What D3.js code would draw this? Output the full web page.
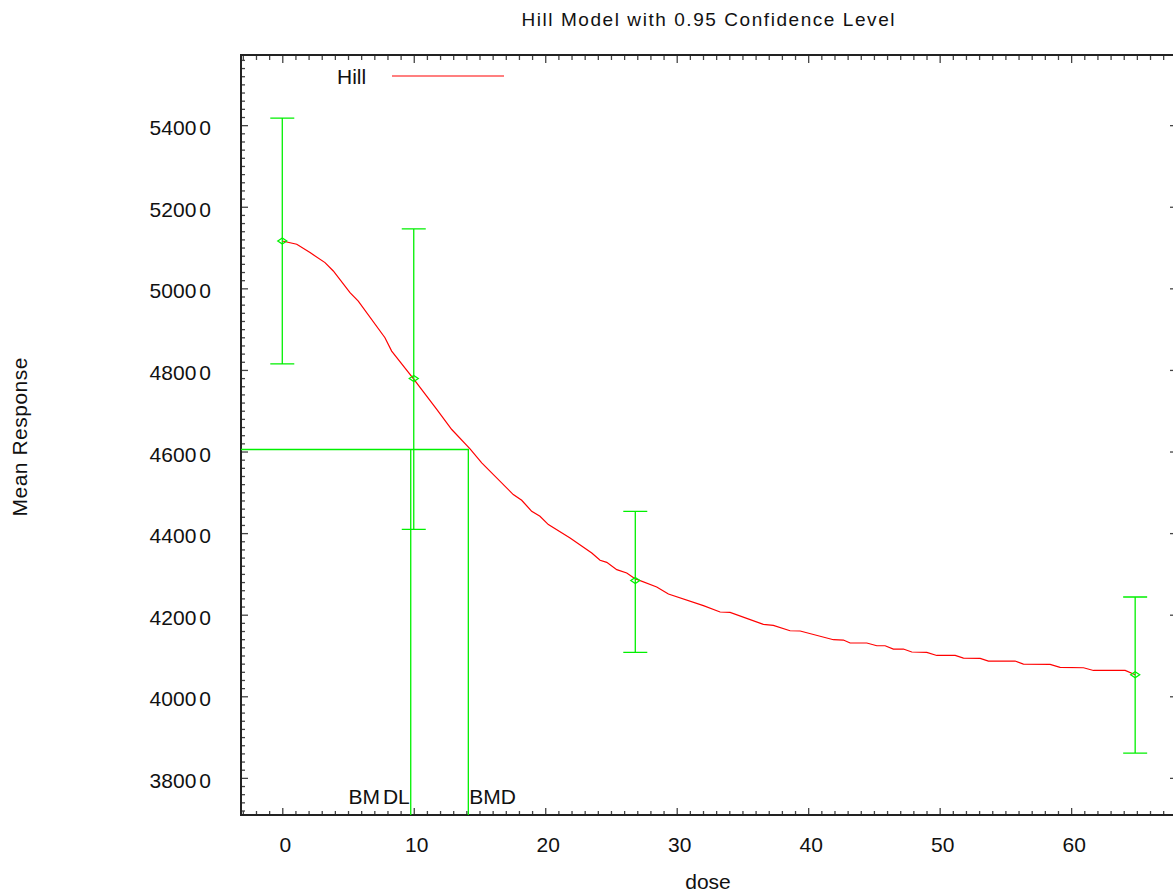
<!DOCTYPE html>
<html>
<head>
<meta charset="utf-8">
<script src="https://cdnjs.cloudflare.com/ajax/libs/d3/7.8.5/d3.min.js"></script>
<style>
body { margin: 0; background: #fff; }
text { font-family: "Liberation Sans", Arial, sans-serif; fill: #111; }
.tick line { stroke: #444; stroke-width: 1.3; }
</style>
</head>
<body>
<svg id="canvas" width="1173" height="895"></svg>
<script>
// observed dose groups (mean + 95% CI)
let doses = [0, 10, 26.85, 64.87]
let means = [51160, 47790, 42840, 40530]
let ciLow = [48150, 44090, 41075, 38606]
let ciHigh = [54175, 51460, 44535, 42434]

// fitted Hill curve
let curveDose = [0, 1.1, 2.11, 3.25, 3.88, 5.15, 5.78, 7.81, 8.32, 9.97, 11.75, 12.89, 14.28, 15.17, 17.57, 18.21, 18.97, 19.6, 20.24, 21.89, 23.54, 24.17, 24.68, 25.44, 26.2, 26.83, 28.48, 29.37, 32.03, 33.3, 34.06, 36.59, 37.35, 38.62, 39.39, 41.92, 42.68, 43.19, 44.46, 45.22, 45.85, 46.48, 47.24, 47.88, 49.02, 49.78, 51.18, 51.81, 53.08, 53.71, 55.74, 56.37, 58.4, 59.16, 60.94, 61.7, 64.11, 64.87]
let curveResp = [51160, 51080, 50876, 50631, 50425, 49895, 49688, 48790, 48462, 47784, 47031, 46540, 46066, 45723, 44945, 44805, 44535, 44412, 44209, 43882, 43514, 43333, 43283, 43104, 43023, 42883, 42680, 42508, 42221, 42066, 42057, 41762, 41737, 41607, 41600, 41387, 41379, 41306, 41306, 41239, 41239, 41158, 41158, 41085, 41075, 41001, 41001, 40937, 40927, 40864, 40864, 40790, 40780, 40707, 40699, 40633, 40633, 40528]

let bmdl = 9.77
let bmd = 14.15
let bmdResponse = 46050

let xTicks = [0, 10, 20, 30, 40, 50, 60]
let xMinor = d3.range(-3, 68, 1).filter(d => d % 10 !== 0)
let yTicks = [38000, 40000, 42000, 44000, 46000, 48000, 50000, 52000, 54000]
let yMinor = d3.range(37200, 55720, 200).filter(d => d % 2000 !== 0)

let canvas = d3.select('#canvas')
let green = '#00f000'
let fontSize = '21px'

let x = d3.scaleLinear().domain([-3.14, 67.9]).range([241, 1175])
let y = d3.scaleLinear().domain([37090, 55720]).range([815, 55])

let plotLeft = x.range()[0], plotRight = x.range()[1]
let plotTop = y.range()[1], plotBottom = y.range()[0]

// ticks (all pointing inward)
let addAxis = (axis, transform) => {
    let g = canvas.append('g').attr('transform', transform).call(axis)
    g.select('.domain').remove()
    g.selectAll('text').remove()
}
addAxis(d3.axisBottom(x).tickValues(xTicks).tickSize(-7), `translate(0,${plotBottom})`)
addAxis(d3.axisBottom(x).tickValues(xMinor).tickSize(-4), `translate(0,${plotBottom})`)
addAxis(d3.axisTop(x).tickValues(xTicks).tickSize(-8), `translate(0,${plotTop})`)
addAxis(d3.axisTop(x).tickValues(xMinor).tickSize(-5), `translate(0,${plotTop})`)
addAxis(d3.axisLeft(y).tickValues(yTicks).tickSize(-7), `translate(${plotLeft},0)`)
addAxis(d3.axisLeft(y).tickValues(yMinor).tickSize(-4), `translate(${plotLeft},0)`)
addAxis(d3.axisRight(y).tickValues(yTicks).tickSize(-5), `translate(${plotRight},0)`)

// frame
canvas.append('path')
    .attr('d', `M${plotLeft},${plotBottom}L${plotLeft},${plotTop}L${plotRight},${plotTop}L${plotRight},${plotBottom}Z`)
    .attr('fill', 'none')
    .attr('stroke', '#222')
    .attr('stroke-width', 2)

// tick labels
canvas.selectAll('.xlab')
    .data(xTicks)
    .enter()
    .append('text')
    .attr('class', 'xlab')
    .attr('x', d => x(d) + 3)
    .attr('y', 852)
    .attr('text-anchor', 'middle')
    .style('font-size', fontSize)
    .text(d => d)

let ylab = canvas.selectAll('.ylab')
    .data(yTicks)
    .enter()
    .append('text')
    .attr('class', 'ylab')
    .attr('x', 211)
    .attr('y', d => y(d) + 10)
    .attr('text-anchor', 'end')
    .style('font-size', fontSize)
ylab.append('tspan').text(d => String(d).slice(0, -1))
ylab.append('tspan').attr('dx', 3).text(d => String(d).slice(-1))

// BMD / BMDL guides
canvas.append('path')
    .attr('d', `M${plotLeft},${y(bmdResponse)}L${x(bmd)},${y(bmdResponse)}L${x(bmd)},${plotBottom}` +
               `M${x(bmdl)},${y(bmdResponse)}L${x(bmdl)},${plotBottom}`)
    .attr('fill', 'none')
    .attr('stroke', green)
    .attr('stroke-width', 1.3)

let bmdlText = canvas.append('text')
    .attr('x', x(bmdl) - 1)
    .attr('y', 804)
    .attr('text-anchor', 'end')
    .style('font-size', fontSize)
bmdlText.append('tspan').text('BM')
bmdlText.append('tspan').attr('dx', 3).text('DL')

canvas.append('text')
    .attr('x', x(bmd) + 1)
    .attr('y', 804)
    .style('font-size', fontSize)
    .text('BMD')

// fitted curve
let line = d3.line()
    .x(d => x(d[0]))
    .y(d => y(d[1]))

canvas.append('path')
    .datum(d3.zip(curveDose, curveResp))
    .attr('d', line)
    .attr('fill', 'none')
    .attr('stroke', '#ff0000')
    .attr('stroke-width', 1.2)

// error bars
let groups = doses.map((d, i) => ({ dose: d, mean: means[i], lo: ciLow[i], hi: ciHigh[i] }))

canvas.selectAll('.ebar')
    .data(groups)
    .enter()
    .append('path')
    .attr('class', 'ebar')
    .attr('d', d => {
        let cx = x(d.dose)
        return `M${cx},${y(d.lo)}L${cx},${y(d.hi)}` +
               `M${cx - 12},${y(d.hi)}L${cx + 12},${y(d.hi)}` +
               `M${cx - 12},${y(d.lo)}L${cx + 12},${y(d.lo)}`
    })
    .attr('fill', 'none')
    .attr('stroke', green)
    .attr('stroke-width', 1.3)

canvas.selectAll('.mark')
    .data(groups)
    .enter()
    .append('path')
    .attr('class', 'mark')
    .attr('d', d => {
        let cx = x(d.dose), cy = y(d.mean)
        return `M${cx - 4.5},${cy}L${cx},${cy - 3}L${cx + 4.5},${cy}L${cx},${cy + 3}Z`
    })
    .attr('fill', 'none')
    .attr('stroke', green)
    .attr('stroke-width', 1.3)

// legend
canvas.append('text')
    .attr('x', 337)
    .attr('y', 84)
    .style('font-size', fontSize)
    .text('Hill')
canvas.append('line')
    .attr('x1', 392).attr('x2', 504)
    .attr('y1', 76).attr('y2', 76)
    .attr('stroke', '#ff0000')
    .attr('stroke-width', 1.2)

// titles
canvas.append('text')
    .attr('x', 708)
    .attr('y', 26)
    .attr('text-anchor', 'middle')
    .attr('textLength', 373)
    .attr('lengthAdjust', 'spacing')
    .style('font-size', '19px')
    .text('Hill Model with 0.95 Confidence Level')

canvas.append('text')
    .attr('x', 708)
    .attr('y', 889)
    .attr('text-anchor', 'middle')
    .style('font-size', fontSize)
    .text('dose')

canvas.append('text')
    .attr('transform', 'translate(27,437) rotate(-90)')
    .attr('text-anchor', 'middle')
    .attr('textLength', 159)
    .attr('lengthAdjust', 'spacing')
    .style('font-size', fontSize)
    .text('Mean Response')
</script>
</body>
</html>
